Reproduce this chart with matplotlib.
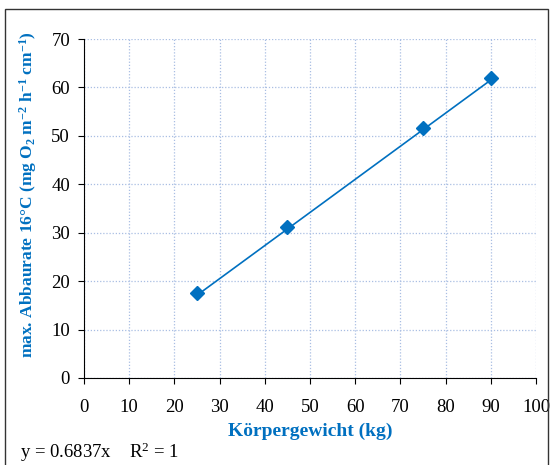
import matplotlib.pyplot as plt
import numpy as np
from matplotlib.patches import Rectangle

plt.rcParams['font.family'] = ['Liberation Serif', 'DejaVu Serif']
plt.rcParams['mathtext.fontset'] = 'custom'
plt.rcParams['mathtext.rm'] = 'Liberation Serif'
plt.rcParams['mathtext.bf'] = 'Liberation Serif:bold'
plt.rcParams['mathtext.default'] = 'bf'

# data
gewicht = np.array([25, 45, 75, 90])
abbaurate = np.array([17.5, 31.2, 51.7, 62.0])
slope = 0.6837

blue = '#0070C0'

fig = plt.figure(figsize=(5.5, 4.65), dpi=100)
ax = fig.add_axes([84/550, 1-378/465, (536-84)/550, (378-39)/465])

# outer frame
fig.patches.append(Rectangle((5/550, -0.01), 543/550, 1.01-9/465,
                             transform=fig.transFigure, fill=False,
                             edgecolor='#333333', linewidth=1.0))

xt = np.array([gewicht.min(), gewicht.max()])
ax.plot(xt, slope*xt, color=blue, linewidth=1.2, zorder=3)
ax.plot(gewicht, abbaurate, linestyle='none', marker='D', markersize=7,
        color=blue, zorder=4)

ax.set_xlim(0, 100)
ax.set_ylim(0, 70)
ax.set_xticks(np.arange(0, 101, 10))
ax.set_yticks(np.arange(0, 71, 10))
ax.grid(True, linestyle=(0, (1, 1.5)), color='#A9BEE3', linewidth=0.9)
ax.set_axisbelow(True)
for s in ['top', 'right']:
    ax.spines[s].set_visible(False)
ax.tick_params(labelsize=13.5, length=4, color='black', pad=6)
ax.tick_params(axis='x', pad=11)

ax.set_xlabel('Körpergewicht (kg)', fontsize=14, fontweight='bold', color=blue, labelpad=5)
ax.set_ylabel('max. Abbaurate 16°C (mg O$_2$ m$^{-2}$ h$^{-1}$ cm$^{-1}$)',
              fontsize=12.5, fontweight='bold', color=blue)
ax.yaxis.set_label_coords(-0.10, 0.54)

fig.text(20/550, 1-452/465, 'y = 0.6837x    R$^\\mathrm{2}$ = 1', fontsize=13.5,
         va='center', ha='left')

fig.savefig('out.png', dpi=100)
